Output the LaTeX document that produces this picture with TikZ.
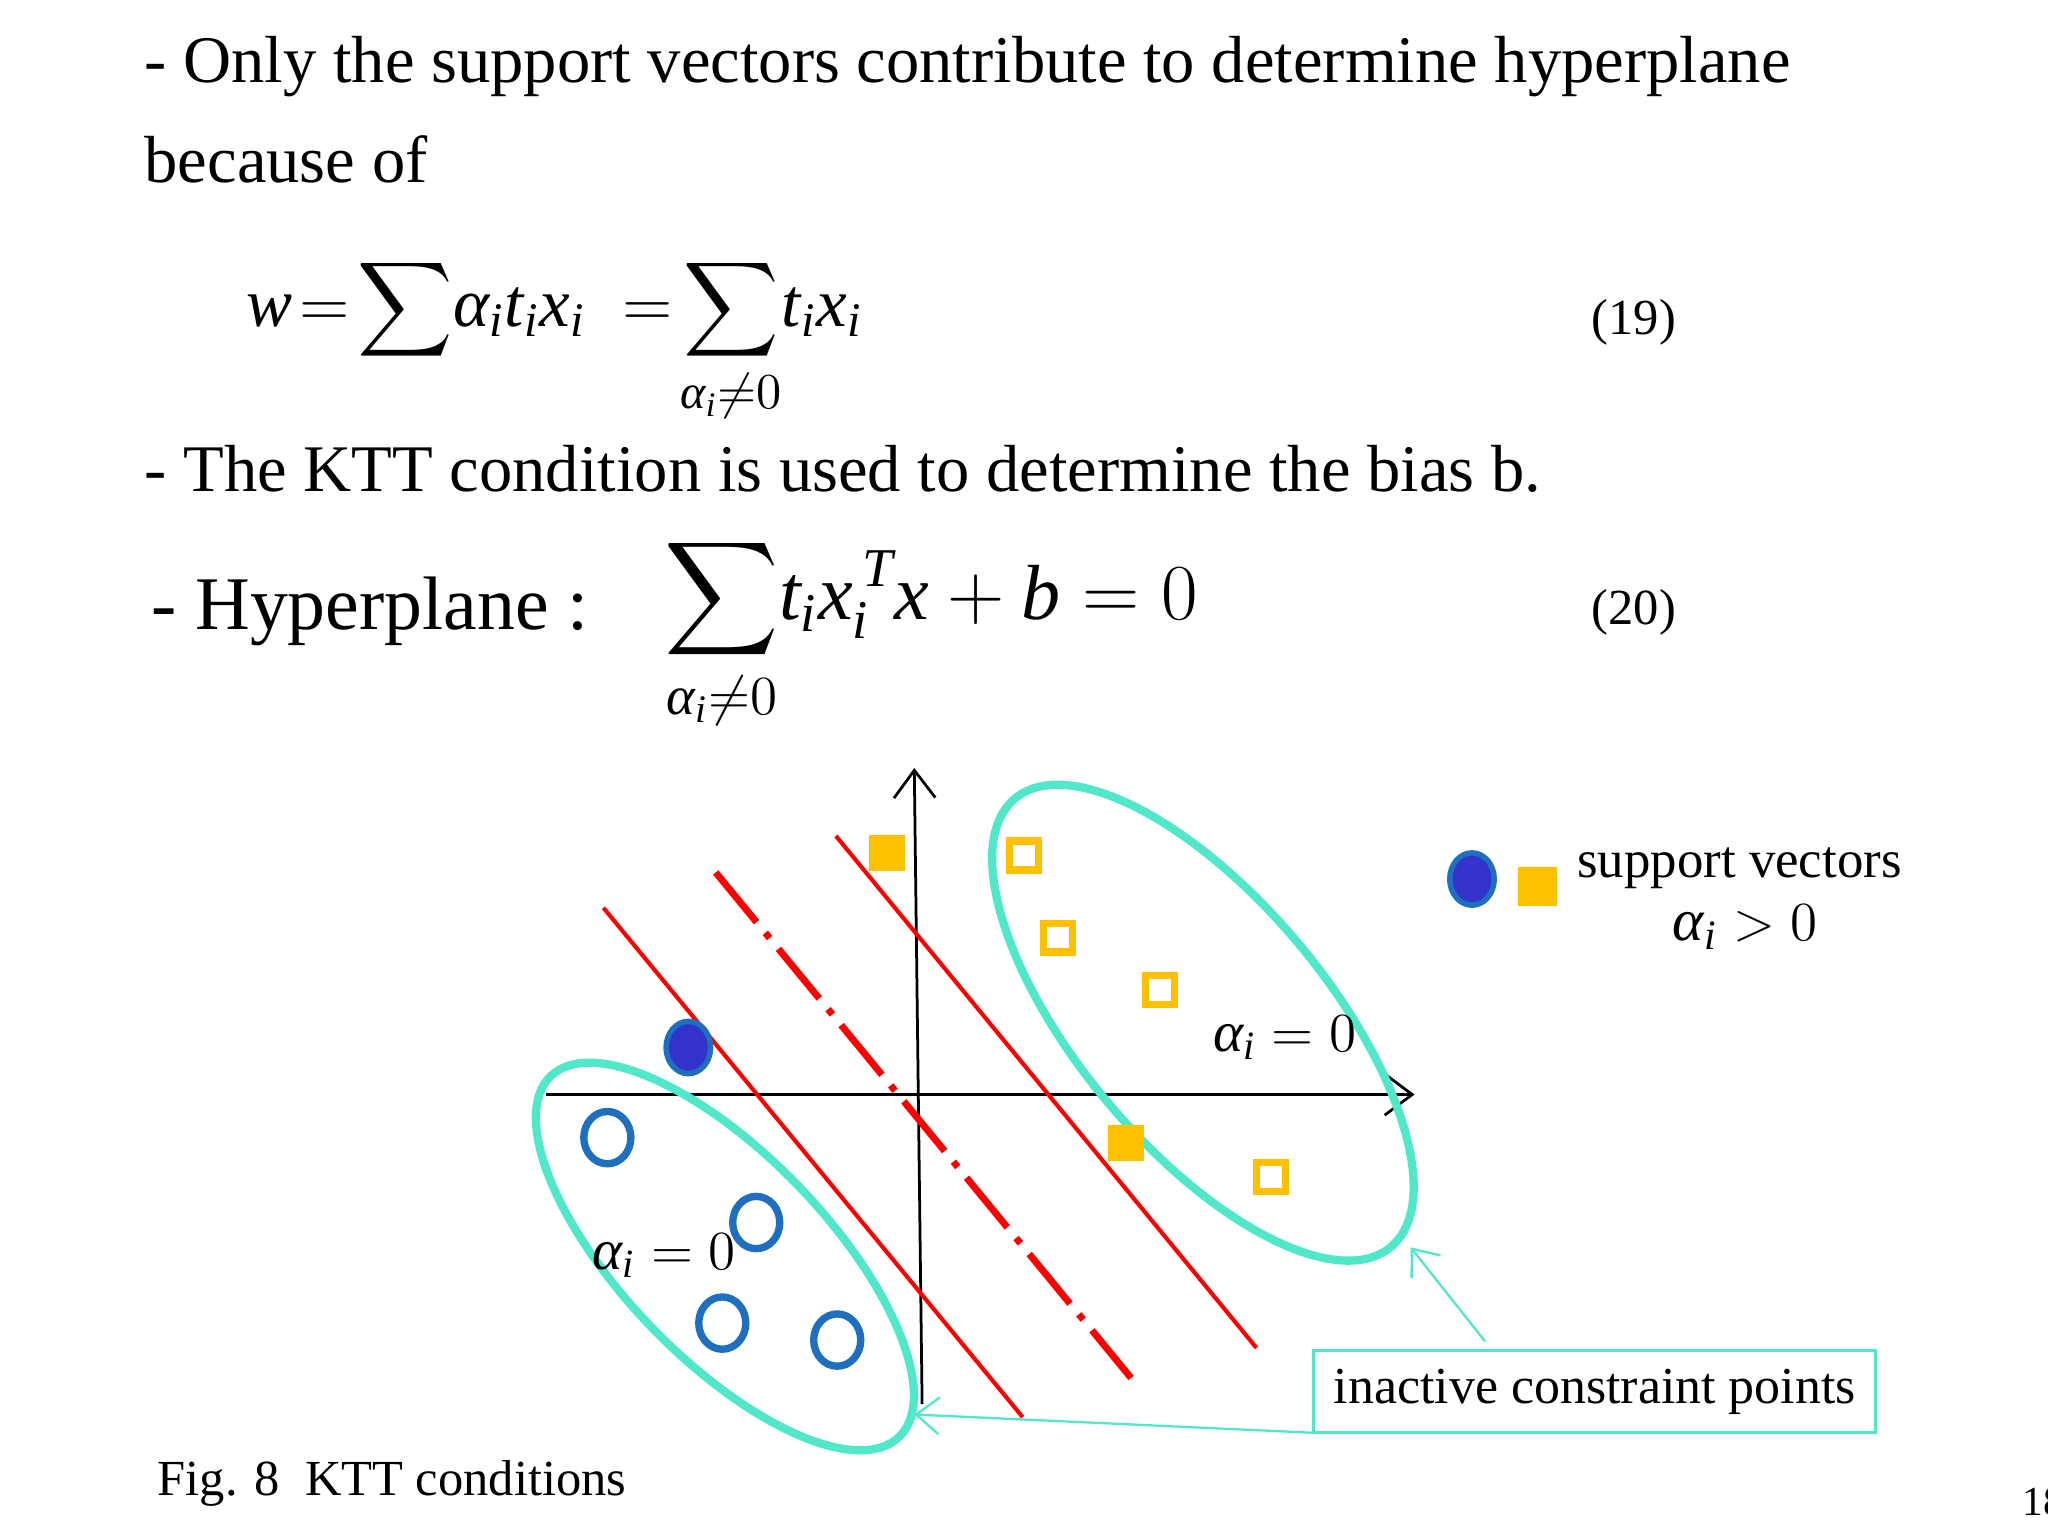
\documentclass[tikz,border=0pt]{standalone}
\usepackage{amsmath}
\usepackage{fontspec}
\setmainfont{Liberation Serif}
\usetikzlibrary{arrows.meta,shapes.geometric}
\definecolor{turq}{RGB}{80,232,200}
\definecolor{gold}{RGB}{255,192,0}
\definecolor{cblue}{RGB}{31,111,191}
\definecolor{dblue}{RGB}{51,51,204}
\newcommand{\mi}[1]{\text{\itshape #1}}
\newcommand{\ai}{\mi{α}_{\mi{i}}}
\begin{document}
\begin{tikzpicture}[x=0.01cm,y=-0.01cm,
  txt/.style={anchor=base west,inner sep=0},
  redl/.style={draw=red,line width=0.9pt},
  oval/.style={draw=turq,line width=1.8pt},
  osq/.style={draw=gold,line width=1.6pt,minimum size=0.22cm,inner sep=0},
  fsq/.style={fill=gold,minimum size=0.28cm,inner sep=0},
  ocirc/.style={draw=cblue,line width=1.6pt,ellipse,minimum width=0.36cm,minimum height=0.40cm,inner sep=0},
  lbl/.style={draw=turq,line width=0.5pt,-{Straight Barb[length=5pt,width=8pt]}}]
\useasboundingbox (0,0) rectangle (1568,1176);
\clip (0,0) rectangle (1568,1176);
% text
\node[txt,font=\fontsize{14.5}{18}\selectfont] (t1) at (110,63) {- Only the support vectors contribute to determine hyperplane};
\node[txt,font=\fontsize{14.5}{18}\selectfont] (t2) at (110,140) {because of};
\node[txt,font=\fontsize{15}{18}\selectfont] (e19) at (188,250) {$\displaystyle \mi{w}\!=\!\sum\!\ai\mi{t}_{\mi{i}}\mi{x}_{\mi{i}} \;=\! \sum_{\ai\neq 0}\! \mi{t}_{\mi{i}}\mi{x}_{\mi{i}}$};
\node[txt,font=\fontsize{11}{13}\selectfont] (n19) at (1218,256) {(19)};
\node[txt,font=\fontsize{14.5}{18}\selectfont] (t3) at (110,376) {- The KTT condition is used to determine the bias b.};
\node[txt,font=\fontsize{16.5}{20}\selectfont] (t4) at (115,482) {- Hyperplane :};
\node[txt,font=\fontsize{17}{20}\selectfont] (e20) at (508,474) {$\displaystyle \sum_{\ai\neq 0}\! \mi{t}_{\mi{i}}\mi{x}_{\mi{i}}^{\,\mi{T}} \mi{x} + \mi{b} = 0$};
\node[txt,font=\fontsize{11}{13}\selectfont] (n20) at (1218,478) {(20)};
% axes
\coordinate (yb) at (706,1075); \coordinate (yt) at (700,588);
\coordinate (xl) at (418,838); \coordinate (xr) at (1083,838);
\draw[line width=0.6pt,-{Straight Barb[length=6pt,width=9pt]}] (yb) -- (yt);
\draw[line width=0.6pt,-{Straight Barb[length=6pt,width=9pt]}] (xl) -- (xr);
% lines
\coordinate (a1) at (462,695); \coordinate (a2) at (783,1085);
\coordinate (b1) at (640,640); \coordinate (b2) at (962,1032);
\coordinate (c1) at (548,668); \coordinate (c2) at (866,1055);
\draw[redl] (a1) -- (a2);
\draw[redl] (b1) -- (b2);
\draw[draw=red,line width=1.5pt,dash pattern=on 14pt off 3pt on 1.5pt off 3pt] (c1) -- (c2);
% ellipses
\draw[oval] (921,783) coordinate (er) ellipse[x radius=224,y radius=95,rotate=-50];
\draw[oval] (555,962) coordinate (el) ellipse[x radius=192,y radius=78,rotate=-46];
% points
\node[fsq] (s1) at (679,653) {};
\node[fsq] (s2) at (862,875) {};
\node[osq] (q1) at (784,655) {};
\node[osq] (q2) at (810,718) {};
\node[osq] (q3) at (888,758) {};
\node[osq] (q4) at (973,901) {};
\node[ellipse,draw=cblue,line width=1.2pt,fill=dblue,minimum width=0.34cm,minimum height=0.40cm,inner sep=0] (p0) at (527,802) {};
\node[ocirc] (p1) at (465,871) {};
\node[ocirc] (p2) at (579,936) {};
\node[ocirc] (p3) at (553,1013) {};
\node[ocirc] (p4) at (641,1026) {};
% labels
\node[txt,font=\fontsize{12.5}{16}\selectfont] (ar) at (928,805) {$\ai = 0$};
\node[txt,font=\fontsize{12.5}{16}\selectfont] (al) at (453,972) {$\ai = 0$};
% legend
\node[ellipse,draw=cblue,line width=1.2pt,fill=dblue,minimum width=0.34cm,minimum height=0.40cm,inner sep=0] (lc) at (1127,673) {};
\node[fsq,minimum size=0.30cm] (ls) at (1177,679) {};
\node[txt,font=\fontsize{11.5}{14}\selectfont] (sv) at (1207,672) {support vectors};
\node[txt,font=\fontsize{13}{16}\selectfont] (ag) at (1280,720) {$\ai > 0$};
% box
\node[draw=turq,line width=0.6pt,minimum width=4.30cm,minimum height=0.63cm,inner sep=0,font=\fontsize{11.3}{14}\selectfont] (box) at (1221,1065.5) {inactive constraint points};
\coordinate (bs) at (1137,1027); \coordinate (be) at (1080,955);
\coordinate (bl) at (1006,1097); \coordinate (le) at (700,1083);
\draw[lbl] (bs) -- (be);
\draw[lbl] (bl) -- (le);
\node[txt,font=\fontsize{11}{14}\selectfont] (fig) at (120,1145) {Fig. 8\ \ KTT conditions};
\node[txt,font=\fontsize{9}{12}\selectfont] (pg) at (1548,1160) {18};
\end{tikzpicture}
\end{document}
